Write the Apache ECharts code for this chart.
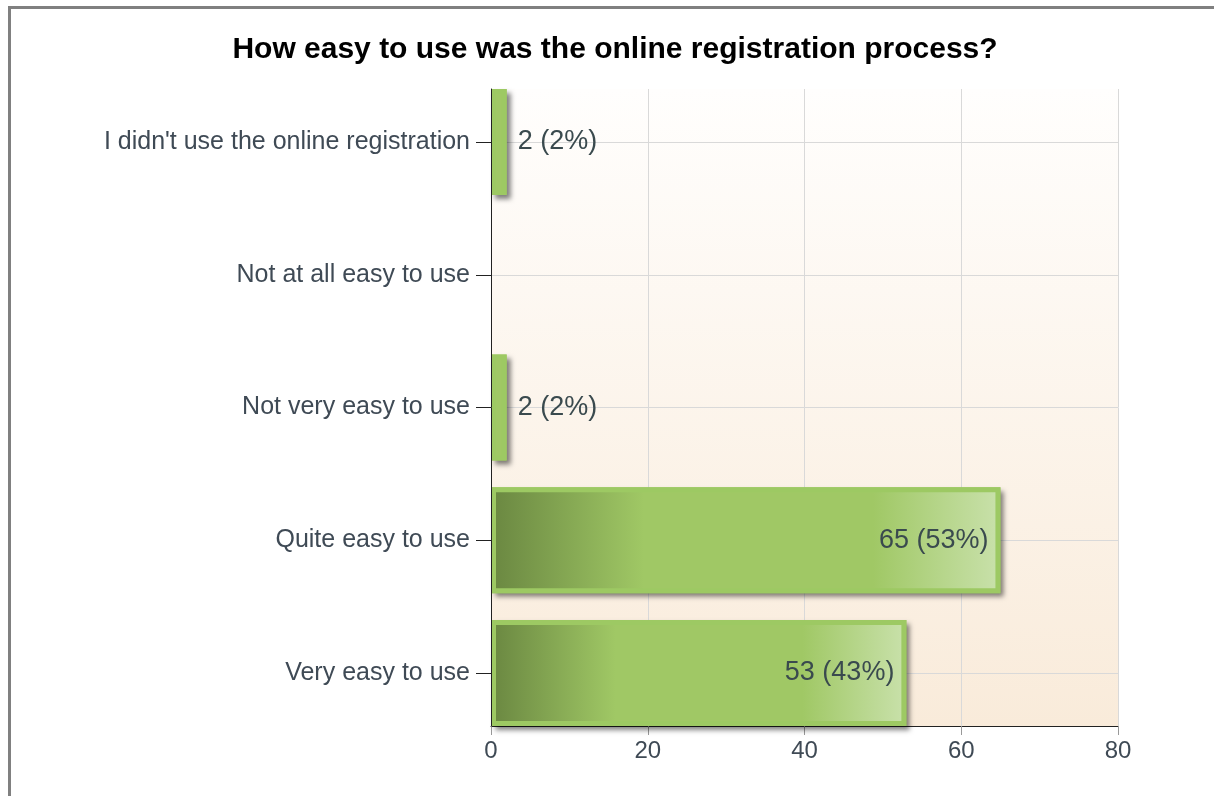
<!DOCTYPE html>
<html>
<head>
<meta charset="utf-8">
<script src="https://cdn.jsdelivr.net/npm/echarts@6/dist/echarts.min.js"></script>
<style>
html,body{margin:0;padding:0;background:#fff;}
#chart{width:1214px;height:796px;}
</style>
</head>
<body>
<div id="chart"></div>
<script>
const titleText = 'How easy to use was the online registration process?';
const categories = ["I didn't use the online registration", 'Not at all easy to use', 'Not very easy to use', 'Quite easy to use', 'Very easy to use'];
const counts = [2, 0, 2, 65, 53];
const percents = [2, 0, 2, 53, 43];
const xTicks = { min: 0, max: 80, interval: 20 };

const FONT = 'Liberation Sans, Arial, sans-serif';
const chart = echarts.init(document.getElementById('chart'));

const barFill = new echarts.graphic.LinearGradient(0, 0, 1, 0, [
  { offset: 0, color: '#6a8741' },
  { offset: 0.3, color: '#a0c865' },
  { offset: 0.75, color: '#a0c865' },
  { offset: 1, color: '#c9e1ab' }
]);

const itemFor = (v) => v === 0 ? { opacity: 0 } : (v < 10 ? { color: '#a0c865' } : {});

const shadowData = counts.map((v) => ({ value: v, itemStyle: itemFor(v) }));
const barData = counts.map((v, i) => ({
  value: v,
  itemStyle: itemFor(v),
  label: {
    show: v > 0,
    position: v < 10 ? 'right' : 'insideRight',
    distance: v < 10 ? 11 : 12,
    formatter: v + ' (' + percents[i] + '%)'
  }
}));

chart.setOption({
  animation: false,
  title: {
    text: titleText,
    left: 610,
    textAlign: 'center',
    top: 30,
    textStyle: { fontFamily: FONT, fontWeight: 'bold', fontSize: 30, color: '#000' }
  },
  graphic: [
    { type: 'rect', shape: { x: 8, y: 6, width: 1206, height: 3 }, style: { fill: '#808080' } },
    { type: 'rect', shape: { x: 8, y: 6, width: 3, height: 790 }, style: { fill: '#808080' } }
  ],
  grid: [
    {
      left: 491, right: 96, top: 89, bottom: 70,
      show: true, borderWidth: 0,
      backgroundColor: new echarts.graphic.LinearGradient(0, 0, 0, 1, [
        { offset: 0, color: '#fffefd' },
        { offset: 1, color: '#f9ebda' }
      ])
    },
    { left: 491, right: 96, top: 142, bottom: 123 }
  ],
  xAxis: [
    {
      gridIndex: 0, type: 'value', min: xTicks.min, max: xTicks.max, interval: xTicks.interval,
      axisLine: { show: true, lineStyle: { color: '#222', width: 1 } },
      axisTick: { show: true, length: 9, lineStyle: { color: '#999' } },
      axisLabel: { margin: 13, fontFamily: FONT, fontSize: 24, color: '#3f4a55' },
      splitLine: { show: true, lineStyle: { color: '#d9d9d9', width: 1 } }
    },
    { gridIndex: 1, type: 'value', min: xTicks.min, max: xTicks.max, show: false }
  ],
  yAxis: [
    {
      gridIndex: 0, type: 'value', min: 0, max: 1, z: 10,
      axisLine: { show: true, lineStyle: { color: '#222', width: 1 } },
      axisTick: { show: false }, axisLabel: { show: false }, splitLine: { show: false }
    },
    {
      gridIndex: 1, type: 'category', data: categories, inverse: true, boundaryGap: false,
      axisLine: { show: false },
      axisTick: { show: true, length: 15, lineStyle: { color: '#222' } },
      axisLabel: { margin: 21, fontFamily: FONT, fontSize: 25, color: '#3f4a55' },
      splitLine: { show: true, lineStyle: { color: '#d9d9d9', width: 1 } }
    }
  ],
  series: [
    {
      type: 'bar',
      xAxisIndex: 1, yAxisIndex: 1,
      barWidth: 106,
      barGap: '-100%',
      clip: false,
      silent: true,
      data: shadowData,
      itemStyle: {
        color: '#9dc963',
        borderWidth: 0,
        shadowColor: 'rgba(0,0,0,0.5)',
        shadowBlur: 5,
        shadowOffsetX: 4,
        shadowOffsetY: 4
      },
      label: { show: false }
    },
    {
      type: 'bar',
      xAxisIndex: 1, yAxisIndex: 1,
      barWidth: 106,
      barGap: '-100%',
      clip: false,
      data: barData,
      itemStyle: {
        color: barFill,
        borderColor: '#9dc963',
        borderWidth: 5
      },
      label: { fontFamily: FONT, fontSize: 27, color: '#3a4a4e' }
    }
  ]
});
</script>
</body>
</html>
